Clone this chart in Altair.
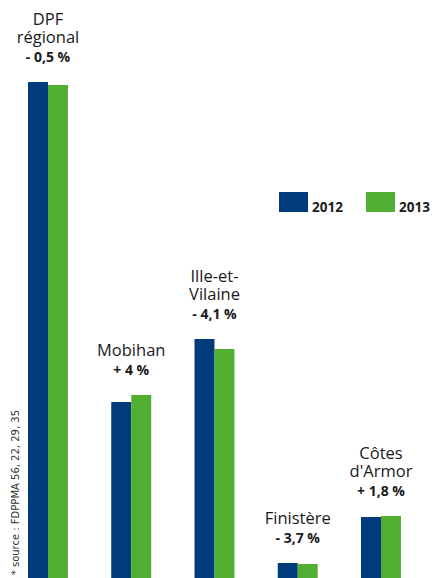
import altair as alt
import pandas as pd

zones = ["DPF régional", "Mobihan", "Ille-et-Vilaine", "Finistère", "Côtes d'Armor"]
name_upper = ["DPF", "", "Ille-et-", "", "Côtes"]
name_lower = ["régional", "Mobihan", "Vilaine", "Finistère", "d'Armor"]
changes = ["- 0,5 %", "+ 4 %", "- 4,1 %", "- 3,7 %", "+ 1,8 %"]
years = ["2012", "2013"]
v2012 = [496, 176, 239, 15, 61]
v2013 = [493, 183, 229, 14, 62]
source_note = "* source : FDPPMA 56, 22, 29, 35"

BLUE = "#003B7B"
GREEN = "#50AF31"
INK = "#1a1a1a"

rows = []
for i, z in enumerate(zones):
    for yr, vals in zip(years, [v2012, v2013]):
        rows.append(dict(zone=z, upper=name_upper[i], lower=name_lower[i],
                         change=changes[i], year=yr, value=vals[i]))
df = pd.DataFrame(rows)

xenc = alt.X("zone:N", sort=zones, axis=None,
             scale=alt.Scale(paddingInner=0.52, paddingOuter=0.3366, align=0.3569))
yscale = alt.Scale(domain=[0, 570], nice=False, zero=True)

bars = alt.Chart(df).mark_bar(strokeWidth=0).encode(
    x=xenc,
    xOffset=alt.XOffset("year:N", sort=years, scale=alt.Scale(paddingInner=0, paddingOuter=0)),
    y=alt.Y("value:Q", axis=None, scale=yscale),
    color=alt.Color(
        "year:N",
        scale=alt.Scale(domain=years, range=[BLUE, GREEN]),
        legend=alt.Legend(
            title=None, orient="none", legendX=271, legendY=189.5,
            direction="horizontal",
            symbolType="M-1,-1.38H1V0H-1Z", symbolSize=841,
            symbolStrokeWidth=0, symbolOpacity=1,
            labelFont="Open Sans", labelFontSize=13.5, labelFontWeight="bold",
            labelColor=INK, labelBaseline="alphabetic", labelOffset=4,
            columnPadding=23, padding=0,
        ),
    ),
)

base = alt.Chart(df).transform_aggregate(
    top="max(value)", groupby=["zone", "upper", "lower", "change"]
)
ytop = alt.Y("top:Q", axis=None, scale=yscale)

pct = base.mark_text(
    font="Open Sans", fontSize=14, fontWeight="bold", baseline="alphabetic",
    dy=-20, color=INK,
).encode(x=xenc, y=ytop, text="change:N")

nm_lower = base.mark_text(
    font="Open Sans", fontSize=16.5, baseline="alphabetic", dy=-39, color=INK,
).encode(x=xenc, y=ytop, text="lower:N")

nm_upper = base.mark_text(
    font="Open Sans", fontSize=16.5, baseline="alphabetic", dy=-57.5, color=INK,
).encode(x=xenc, y=ytop, text="upper:N")

src = alt.Chart(pd.DataFrame({"t": [source_note]})).mark_text(
    angle=270, align="right", baseline="middle", font="DejaVu Sans",
    fontSize=10, color="#333333",
).encode(text="t:N", x=alt.value(8), y=alt.value(402))

chart = alt.layer(bars, nm_upper, nm_lower, pct, src).properties(
    width=429, height=570, padding=0,
    autosize=alt.AutoSizeParams(type="none"),
).configure_view(stroke=None)

chart.save("out.html", embed_options={"renderer": "svg", "actions": False})
